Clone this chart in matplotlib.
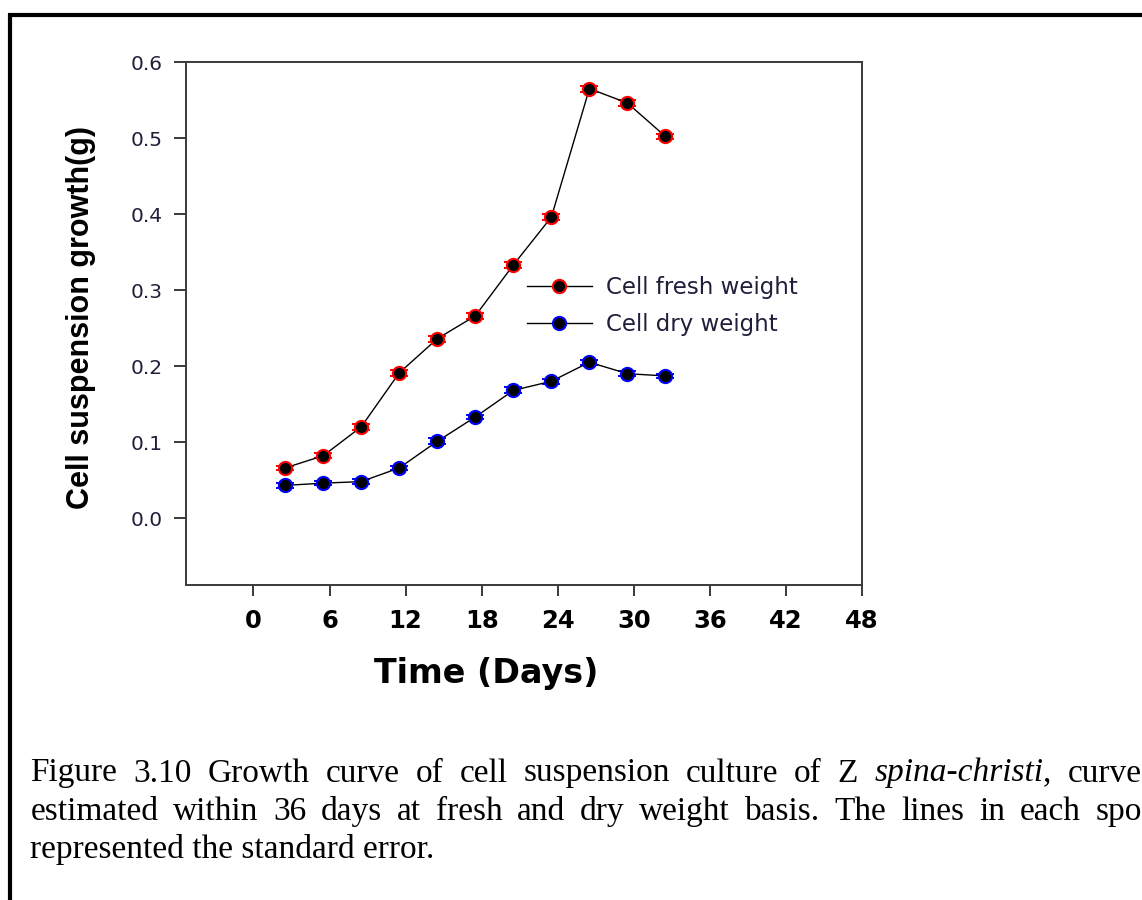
import matplotlib
matplotlib.use("Agg")
import matplotlib.pyplot as plt
from matplotlib.lines import Line2D

# ---------------- data ----------------
days = [2.5, 5.5, 8.5, 11.5, 14.5, 17.5, 20.5, 23.5, 26.5, 29.5, 32.5]
fresh_weight = [0.066, 0.082, 0.120, 0.191, 0.236, 0.266, 0.333, 0.396, 0.565, 0.546, 0.502]
fresh_se = [0.003, 0.003, 0.004, 0.004, 0.004, 0.004, 0.004, 0.004, 0.004, 0.004, 0.003]
dry_weight = [0.043, 0.046, 0.048, 0.066, 0.101, 0.133, 0.168, 0.180, 0.205, 0.190, 0.187]
dry_se = [0.003, 0.003, 0.003, 0.003, 0.004, 0.003, 0.004, 0.003, 0.003, 0.003, 0.003]
series_labels = ["Cell fresh weight", "Cell dry weight"]
x_ticks = [0, 6, 12, 18, 24, 30, 36, 42, 48]
y_ticks = [0.0, 0.1, 0.2, 0.3, 0.4, 0.5, 0.6]
x_label = "Time (Days)"
y_label = "Cell suspension growth(g)"
caption_line1 = [[("Figure", "normal")], [("3.10", "normal")], [("Growth", "normal")],
                 [("curve", "normal")], [("of", "normal")], [("cell", "normal")],
                 [("suspension", "normal")], [("culture", "normal")], [("of", "normal")],
                 [("Z", "normal")], [("spina-christi", "italic"), (",", "normal")],
                 [("curve", "normal")]]
caption_line2 = ["estimated", "within", "36", "days", "at", "fresh", "and", "dry",
                 "weight", "basis.", "The", "lines", "in", "each", "spo"]
caption_line3 = "represented the standard error."

W, H = 1142, 900
fig = plt.figure(figsize=(W / 100, H / 100), dpi=100)
fig.patch.set_facecolor("white")

# page frame lines
fig.add_artist(Line2D([8 / W, 1.0], [1 - 15 / H, 1 - 15 / H], transform=fig.transFigure,
                      color="black", lw=3.0, solid_capstyle="butt"))
fig.add_artist(Line2D([9.5 / W, 9.5 / W], [0.0, 1 - 13.5 / H], transform=fig.transFigure,
                      color="black", lw=3.0, solid_capstyle="butt"))

left, right, top, bottom = 185.6, 862, 62, 585
ax = fig.add_axes([left / W, 1 - bottom / H, (right - left) / W, (bottom - top) / H])

spine_col = "#3a3a3a"
for s in ax.spines.values():
    s.set_color(spine_col)
    s.set_linewidth(1.4)

# error bars first
ax.errorbar(days, fresh_weight, yerr=fresh_se, fmt="none", ecolor="red",
            elinewidth=1.2, capsize=6.5, capthick=1.4, zorder=2)
ax.errorbar(days, dry_weight, yerr=dry_se, fmt="none", ecolor="blue",
            elinewidth=1.2, capsize=6.5, capthick=1.4, zorder=2)
ax.plot(days, fresh_weight, "-o", color="black", lw=1.0, ms=9.5, mfc="black",
        mec="red", mew=1.5, label=series_labels[0], zorder=3)
ax.plot(days, dry_weight, "-o", color="black", lw=1.0, ms=9.5, mfc="black",
        mec="blue", mew=1.5, label=series_labels[1], zorder=3)

ax.set_xlim(-5.35, 48)
ax.set_ylim(-0.088, 0.6)
ax.set_xticks(x_ticks)
ax.set_yticks(y_ticks)
ax.set_xticklabels([str(v) for v in x_ticks], fontfamily="DejaVu Sans",
                   fontweight="bold", fontsize=17.5, color="black")
ax.set_yticklabels([f"{v:.1f}" for v in y_ticks], fontfamily="DejaVu Sans",
                   fontsize=14.5, color="#1f1f3a")
ax.tick_params(axis="x", direction="out", length=8, width=1.4, color=spine_col, pad=9)
ax.tick_params(axis="y", direction="out", length=8.5, width=1.4, color=spine_col, pad=8)

ax.set_xlabel(x_label, fontfamily="DejaVu Sans", fontweight="bold", fontsize=24, color="black")
ax.xaxis.set_label_coords(0.445, -0.137)
ax.set_ylabel(y_label, fontfamily="Liberation Sans", fontweight="bold", fontsize=22, color="black")
ax.yaxis.set_label_coords(-0.1325, 0.511)

leg = ax.legend(loc="center left", bbox_to_anchor=(0.5047, 0.5330), frameon=False,
                borderpad=0, borderaxespad=0, handlelength=2.83, handletextpad=0.62,
                labelspacing=0.62, prop={"family": "DejaVu Sans", "size": 16.5})
for t in leg.get_texts():
    t.set_color("#1f1f3a")

# ---------------- caption (justified) ----------------
cap_font = dict(fontfamily="Liberation Serif", fontsize=24, color="black")
fig.canvas.draw()
renderer = fig.canvas.get_renderer()


def place_justified(words, baseline_px, x_left, x_right):
    items = []
    total = 0.0
    for parts in words:
        texts = []
        wsum = 0.0
        for s, style in parts:
            t = fig.text(0, 1 - baseline_px / H, s, style=style, va="baseline", ha="left", **cap_font)
            w = t.get_window_extent(renderer).width
            texts.append((t, w))
            wsum += w
        items.append(texts)
        total += wsum
    gap = (x_right - x_left - total) / (len(words) - 1)
    x = x_left
    for texts in items:
        for t, w in texts:
            t.set_x(x / W)
            x += w
        x += gap


place_justified(caption_line1, 781.5, 30.5, 1141.5)
place_justified([[(w, "normal")] for w in caption_line2], 820.0, 30.5, 1141.5)
fig.text(30.5 / W, 1 - 858.3 / H, caption_line3, va="baseline", ha="left", **cap_font)

fig.savefig("out.png", dpi=100, facecolor="white")
